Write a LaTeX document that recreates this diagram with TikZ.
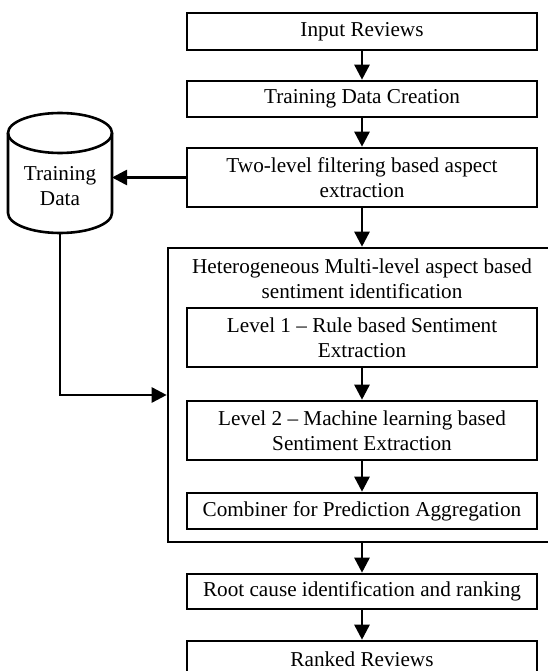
\documentclass[tikz,border=0pt]{standalone}
\usepackage{fontspec}
\setmainfont{Liberation Serif}
\usetikzlibrary{arrows.meta}

\begin{document}
\begin{tikzpicture}[x=1pt, y=-1pt, line width=2.6pt,
	stage/.style={draw, minimum width=350pt, inner sep=0pt, align=center},
	>={Triangle[length=15pt, width=15pt]},   %Pfeilspitzen
	font=\fontsize{21.2}{25}\selectfont]
	%Bildbereich
	\useasboundingbox (0,0) rectangle (548,671);
	% Kaesten oben
	\node[stage, minimum height=37pt] (input) at (362,31.5) {Input Reviews};
	\node[stage, minimum height=36pt] (create) at (362,99) {Training Data Creation};
	\node[stage, minimum height=59pt] (filter) at (362,177.5) {Two-level filtering based aspect\\extraction};
	% Datenbank
	\draw (60,133) ellipse[x radius=52, y radius=20];
	\draw (8,133) -- (8,213) arc[start angle=180, end angle=0, x radius=52, y radius=20] -- (112,133);
	\node[align=center] (train) at (60,186) {Training\\Data};
	\coordinate (trainE) at (112,177.5);
	\coordinate (trainS) at (60,233);
	% Grosser Kasten
	\node[draw, minimum width=382pt, minimum height=294pt] (hetero) at (359,395) {};
	\node[align=center] (heterotitle) at (362,279) {Heterogeneous Multi-level aspect based\\sentiment identification};
	\node[stage, minimum height=59pt] (level1) at (362,337.5) {Level 1 -- Rule based Sentiment\\Extraction};
	\node[stage, minimum height=59pt] (level2) at (362,430.5) {Level 2 -- Machine learning based\\Sentiment Extraction};
	\node[stage, minimum height=36pt] (combine) at (362,511) {Combiner for Prediction Aggregation};
	% Kaesten unten
	\node[stage, minimum height=35pt] (root) at (362,591.5) {Root cause identification and ranking};
	\node[stage, minimum height=36pt] (ranked) at (362,659) {Ranked Reviews};
	% Pfeile
	\draw[->] (input) -- (create);
	\draw[->] (create) -- (filter);
	\draw[->] (filter.south) -- (filter.south |- hetero.north);
	\draw[->] (filter.west) -- (trainE);
	\draw[->] (trainS) |- (hetero.west);
	\draw[->] (level1) -- (level2);
	\draw[->] (level2) -- (combine);
	\draw[->] (root.north |- hetero.south) -- (root.north);
	\draw[->] (root) -- (ranked);
\end{tikzpicture}
\end{document}
